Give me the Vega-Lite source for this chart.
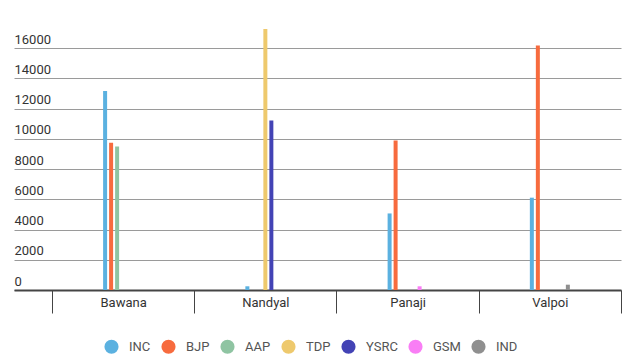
{
  "$schema": "https://vega.github.io/schema/vega-lite/v6.json",
  "width": 607,
  "height": 272,
  "autosize": {"type": "none"},
  "padding": {"left": 14, "top": 18, "right": 17, "bottom": 69},
  "background": "white",
  "data": {
    "values": [
      {"constituency": "Bawana", "party": "INC", "votes": 13170},
      {"constituency": "Bawana", "party": "BJP", "votes": 9741},
      {"constituency": "Bawana", "party": "AAP", "votes": 9495},
      {"constituency": "Nandyal", "party": "INC", "votes": 245},
      {"constituency": "Nandyal", "party": "TDP", "votes": 17264},
      {"constituency": "Nandyal", "party": "YSRC", "votes": 11222},
      {"constituency": "Panaji", "party": "INC", "votes": 5066},
      {"constituency": "Panaji", "party": "BJP", "votes": 9894},
      {"constituency": "Panaji", "party": "GSM", "votes": 245},
      {"constituency": "Valpoi", "party": "INC", "votes": 6109},
      {"constituency": "Valpoi", "party": "BJP", "votes": 16182},
      {"constituency": "Valpoi", "party": "IND", "votes": 352}
    ]
  },
  "mark": {"type": "bar"},
  "encoding": {
    "x": {
      "field": "constituency",
      "type": "nominal",
      "sort": ["Bawana", "Nandyal", "Panaji", "Valpoi"],
      "scale": {"paddingInner": 0.6344, "paddingOuter": 0.4508, "align": 0.648},
      "axis": {
        "title": null,
        "labelAngle": 0,
        "bandPosition": 2.735,
        "tickExtra": true,
        "tickOffset": -45.1,
        "labelOffset": 45.1,
        "tickSize": 23,
        "tickColor": "#444444",
        "tickWidth": 1,
        "domainColor": "#444444",
        "domainWidth": 2,
        "labelPadding": -17,
        "labelFont": "Roboto",
        "labelFontSize": 13,
        "labelColor": "#333333",
        "grid": false
      }
    },
    "xOffset": {
      "field": "party",
      "type": "nominal",
      "sort": ["INC", "BJP", "AAP", "TDP", "YSRC", "GSM", "IND"],
      "scale": {"domain": ["INC", "BJP", "AAP", "TDP", "YSRC", "GSM", "IND"], "paddingInner": 0.333, "paddingOuter": 1}
    },
    "y": {
      "field": "votes",
      "type": "quantitative",
      "scale": {"domain": [0, 18000], "nice": false},
      "axis": {
        "title": null,
        "values": [0, 2000, 4000, 6000, 8000, 10000, 12000, 14000, 16000],
        "format": "d",
        "domain": false,
        "ticks": false,
        "tickSize": 0,
        "grid": true,
        "gridColor": "#9a9a9a",
        "gridWidth": 1,
        "labelAlign": "left",
        "labelBaseline": "alphabetic",
        "labelPadding": 0,
        "labelOffset": -5,
        "labelFont": "Roboto",
        "labelFontSize": 13,
        "labelColor": "#333333"
      }
    },
    "color": {
      "field": "party",
      "type": "nominal",
      "scale": {
        "domain": ["INC", "BJP", "AAP", "TDP", "YSRC", "GSM", "IND"],
        "range": ["#5bb1e0", "#f76b3e", "#8fc4a2", "#eec96d", "#4343b5", "#f97ef5", "#8f8f8f"]
      },
      "legend": {
        "title": null,
        "orient": "none",
        "legendX": 90,
        "legendY": 321,
        "direction": "horizontal",
        "symbolType": "circle",
        "symbolSize": 200,
        "symbolStrokeWidth": 0,
        "symbolOpacity": 1,
        "labelFont": "Roboto",
        "labelFontSize": 13,
        "labelColor": "#555555",
        "labelOffset": 10,
        "columnPadding": 10
      }
    }
  },
  "config": {
    "view": {"stroke": null},
    "font": "Roboto"
  }
}
